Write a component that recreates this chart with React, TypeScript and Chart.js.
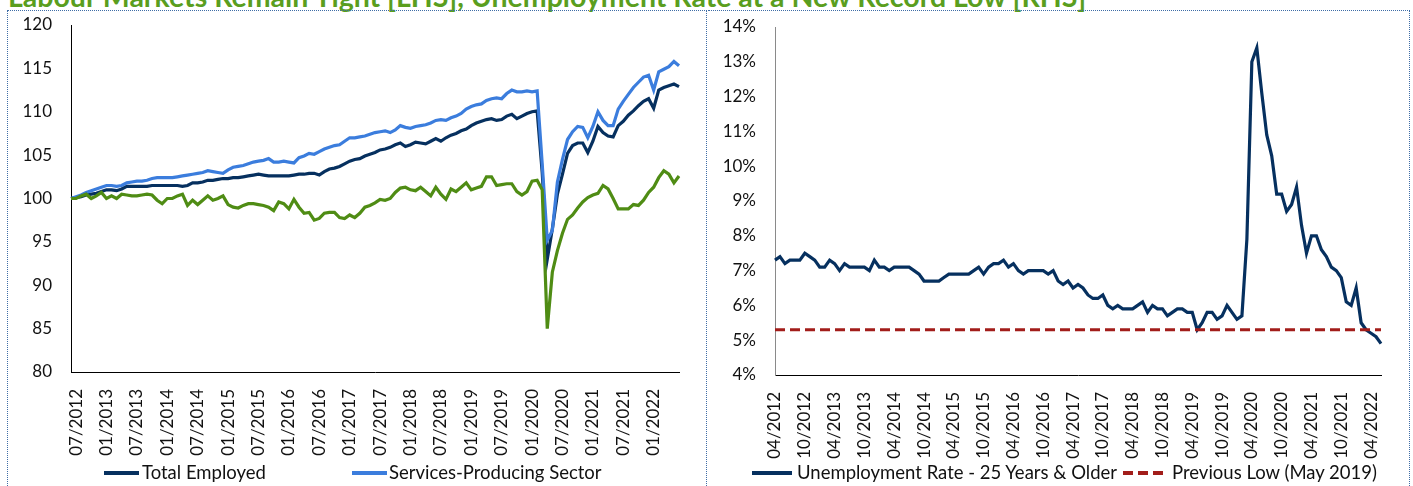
import React, { useEffect, useRef } from 'react';
import { Chart, registerables } from 'chart.js';

Chart.register(...registerables);

// ---------- categories ----------
function monthLabels(startYear: number, startMonth: number, count: number): string[] {
  const out: string[] = [];
  for (let k = 0; k < count; k++) {
    const m = ((startMonth - 1 + k) % 12) + 1;
    const y = startYear + Math.floor((startMonth - 1 + k) / 12);
    out.push(String(m).padStart(2, '0') + '/' + y);
  }
  return out;
}

const leftCategories = monthLabels(2012, 6, 121); // 06/2012 .. 06/2022
const rightCategories = monthLabels(2012, 4, 123); // 04/2012 .. 06/2022
const leftTickMonths = ['01', '07'];
const rightTickMonths = ['04', '10'];

const leftYMin = 80;
const leftYMax = 120;
const leftYStep = 5;
const rightYMin = 4;
const rightYMax = 14;
const rightYStep = 1;

// ---------- series (index, base = 100) ----------
const totalEmployed = [
  100.0, 100.1, 100.2, 100.4, 100.5, 100.6, 100.8, 101.0, 101.0, 100.9,
  101.1, 101.4, 101.4, 101.4, 101.4, 101.4, 101.5, 101.5, 101.5, 101.5,
  101.5, 101.5, 101.4, 101.5, 101.8, 101.8, 101.9, 102.1, 102.1, 102.2,
  102.3, 102.3, 102.4, 102.4, 102.5, 102.6, 102.7, 102.8, 102.7, 102.6,
  102.6, 102.6, 102.6, 102.6, 102.7, 102.8, 102.8, 102.9, 102.9, 102.7,
  103.1, 103.4, 103.5, 103.7, 104.0, 104.3, 104.5, 104.6, 104.9, 105.1,
  105.3, 105.6, 105.7, 105.9, 106.2, 106.4, 106.0, 106.2, 106.5, 106.4,
  106.3, 106.6, 106.9, 106.6, 107.0, 107.3, 107.5, 107.8, 108.0, 108.4,
  108.7, 108.9, 109.1, 109.2, 109.0, 109.1, 109.5, 109.7, 109.2, 109.5,
  109.8, 110.0, 110.1, 103.0, 93.0, 96.5, 100.5, 102.8, 105.2, 106.1,
  106.4, 106.4, 105.3, 106.6, 108.3, 107.6, 107.2, 107.1, 108.4, 108.9,
  109.6, 110.1, 110.7, 111.2, 111.5, 110.4, 112.5, 112.8, 113.0, 113.2,
  112.9,
];

const servicesSector = [
  100.0, 100.2, 100.4, 100.7, 100.9, 101.1, 101.3, 101.5, 101.5, 101.4,
  101.5, 101.8, 101.9, 102.0, 102.0, 102.1, 102.3, 102.4, 102.4, 102.4,
  102.4, 102.5, 102.6, 102.7, 102.8, 102.9, 103.0, 103.2, 103.1, 103.0,
  102.9, 103.3, 103.6, 103.7, 103.8, 104.0, 104.2, 104.3, 104.4, 104.6,
  104.2, 104.2, 104.3, 104.2, 104.1, 104.7, 104.9, 105.2, 105.1, 105.4,
  105.7, 105.9, 106.1, 106.2, 106.6, 107.0, 107.0, 107.1, 107.2, 107.4,
  107.6, 107.7, 107.8, 107.6, 107.9, 108.4, 108.2, 108.1, 108.3, 108.4,
  108.5, 108.7, 109.0, 109.1, 109.0, 109.3, 109.5, 109.8, 110.3, 110.6,
  110.8, 110.9, 111.3, 111.5, 111.6, 111.5, 112.1, 112.5, 112.3, 112.3,
  112.4, 112.3, 112.4, 104.0, 95.2, 96.3, 101.9, 104.5, 106.8, 107.7,
  108.3, 108.2, 107.0, 108.3, 110.0, 109.0, 108.4, 108.4, 110.3, 111.2,
  112.0, 112.8, 113.4, 114.0, 114.2, 112.5, 114.6, 114.9, 115.2, 115.8,
  115.3,
];

const goodsSector = [
  100.0, 100.0, 100.3, 100.5, 100.0, 100.3, 100.7, 100.0, 100.3, 100.0,
  100.5, 100.4, 100.3, 100.3, 100.4, 100.5, 100.4, 99.8, 99.4, 100.0,
  100.0, 100.3, 100.5, 99.2, 99.8, 99.3, 99.8, 100.3, 99.8, 100.0,
  100.3, 99.3, 99.0, 98.9, 99.2, 99.4, 99.4, 99.3, 99.2, 99.0,
  98.6, 99.6, 99.4, 98.8, 99.9, 99.0, 98.3, 98.4, 97.5, 97.7,
  98.3, 98.4, 98.4, 97.8, 97.7, 98.1, 97.8, 98.3, 99.0, 99.2,
  99.5, 99.9, 99.8, 100.0, 100.7, 101.2, 101.3, 101.0, 100.9, 101.3,
  100.8, 100.3, 101.3, 100.5, 99.9, 101.1, 100.8, 101.3, 101.8, 101.0,
  101.2, 101.4, 102.5, 102.5, 101.5, 101.6, 101.7, 101.7, 100.8, 100.4,
  100.8, 102.0, 102.1, 101.0, 85.0, 91.5, 94.0, 96.0, 97.6, 98.1,
  98.9, 99.6, 100.1, 100.4, 100.6, 101.5, 101.1, 100.0, 98.8, 98.8,
  98.8, 99.3, 99.2, 99.8, 100.7, 101.3, 102.4, 103.2, 102.8, 101.8,
  102.6,
];

// ---------- unemployment rate, 25 years & older (%) ----------
const unemploymentRate = [
  7.3, 7.4, 7.2, 7.3, 7.3, 7.3, 7.5, 7.4, 7.3, 7.1,
  7.1, 7.3, 7.2, 7.0, 7.2, 7.1, 7.1, 7.1, 7.1, 7.0,
  7.3, 7.1, 7.1, 7.0, 7.1, 7.1, 7.1, 7.1, 7.0, 6.9,
  6.7, 6.7, 6.7, 6.7, 6.8, 6.9, 6.9, 6.9, 6.9, 6.9,
  7.0, 7.1, 6.9, 7.1, 7.2, 7.2, 7.3, 7.1, 7.2, 7.0,
  6.9, 7.0, 7.0, 7.0, 7.0, 6.9, 7.0, 6.7, 6.6, 6.7,
  6.5, 6.6, 6.5, 6.3, 6.2, 6.2, 6.3, 6.0, 5.9, 6.0,
  5.9, 5.9, 5.9, 6.0, 6.1, 5.8, 6.0, 5.9, 5.9, 5.7,
  5.8, 5.9, 5.9, 5.8, 5.8, 5.3, 5.5, 5.8, 5.8, 5.6,
  5.7, 6.0, 5.8, 5.6, 5.7, 7.9, 13.0, 13.4, 12.1, 10.9,
  10.3, 9.2, 9.2, 8.7, 8.9, 9.4, 8.3, 7.5, 8.0, 8.0,
  7.6, 7.4, 7.1, 7.0, 6.8, 6.1, 6.0, 6.5, 5.5, 5.3,
  5.2, 5.1, 4.9,
];
const previousLowValue = 5.3;
const previousLow = rightCategories.map(() => previousLowValue);

// ---------- styles ----------
const NAVY = '#06305F';
const LIGHT_BLUE = '#3B7DDD';
const GREEN = '#4F8C14';
const DARK_RED = '#A21D1A';
const TITLE_GREEN = '#5A9E1E';
const FONT = 'Lato, "Open Sans", sans-serif';
const TEXT = '#111111';

function xAxis(categories: string[], tickMonths: string[], height: number) {
  return {
    type: 'category' as const,
    offset: false,
    grid: { display: false, drawTicks: false },
    border: { display: true, color: '#000000', width: 1 },
    ticks: {
      autoSkip: false,
      maxRotation: 90,
      minRotation: 90,
      padding: 17,
      color: TEXT,
      font: { family: FONT, size: 17 },
      callback: (_v: any, index: number) => {
        const l = categories[index];
        return tickMonths.includes(l.slice(0, 2)) ? l : '';
      },
    },
    afterFit: (scale: any) => {
      scale.height = height;
      scale.paddingLeft = 0;
      scale.paddingRight = 0;
    },
  };
}

function yAxis(min: number, max: number, step: number, width: number, borderColor: string, suffix: string) {
  return {
    min,
    max,
    grid: { display: false, drawTicks: false },
    border: { display: true, color: borderColor, width: 1 },
    ticks: {
      stepSize: step,
      padding: 19,
      color: TEXT,
      font: { family: FONT, size: 17 },
      callback: (v: any) => v + suffix,
    },
    afterFit: (scale: any) => {
      scale.width = width;
      scale.paddingTop = 0;
      scale.paddingBottom = 0;
    },
  };
}

function LineChart({ config, style }: { config: any; style: React.CSSProperties }) {
  const ref = useRef<HTMLCanvasElement | null>(null);
  useEffect(() => {
    if (!ref.current) return;
    const chart = new Chart(ref.current, config);
    return () => chart.destroy();
  }, []);
  return <canvas ref={ref} width={style.width as number} height={style.height as number} style={{ position: 'absolute', ...style }} />;
}

const leftConfig = {
  type: 'line',
  data: {
    labels: leftCategories,
    datasets: [
      { label: 'Total Employed', data: totalEmployed, borderColor: NAVY, backgroundColor: NAVY, borderWidth: 3.2, pointRadius: 0, tension: 0, order: 3 },
      { label: 'Services-Producing Sector', data: servicesSector, borderColor: LIGHT_BLUE, backgroundColor: LIGHT_BLUE, borderWidth: 3.2, pointRadius: 0, tension: 0, order: 2 },
      { label: 'Goods-Producing Sector', data: goodsSector, borderColor: GREEN, backgroundColor: GREEN, borderWidth: 3.2, pointRadius: 0, tension: 0, order: 1 },
    ],
  },
  options: {
    animation: false,
    responsive: false,
    layout: { padding: { top: 15, right: 29, bottom: 0, left: 0 } },
    plugins: { legend: { display: false }, tooltip: { enabled: false } },
    scales: {
      x: xAxis(leftCategories, leftTickMonths, 90),
      y: yAxis(leftYMin, leftYMax, leftYStep, 63, '#000000', ''),
    },
  },
};

const rightConfig = {
  type: 'line',
  data: {
    labels: rightCategories,
    datasets: [
      { label: 'Unemployment Rate - 25 Years & Older', data: unemploymentRate, borderColor: NAVY, backgroundColor: NAVY, borderWidth: 3.2, pointRadius: 0, tension: 0, order: 2 },
      { label: 'Previous Low (May 2019)', data: previousLow, borderColor: DARK_RED, backgroundColor: DARK_RED, borderWidth: 3.2, borderDash: [10, 5], pointRadius: 0, tension: 0, order: 1 },
    ],
  },
  options: {
    animation: false,
    responsive: false,
    layout: { padding: { top: 17, right: 27, bottom: 0, left: 0 } },
    plugins: { legend: { display: false }, tooltip: { enabled: false } },
    scales: {
      x: xAxis(rightCategories, rightTickMonths, 87),
      y: yAxis(rightYMin, rightYMax, rightYStep, 65, '#8A8A8A', '%'),
    },
  },
};

function LegendItem({ left, lineLeft, lineWidth, color, dashed, text }: any) {
  const line: React.CSSProperties = {
    position: 'absolute',
    left: lineLeft,
    top: 471,
    width: lineWidth,
    height: 4,
    background: dashed
      ? `repeating-linear-gradient(to right, ${color} 0px, ${color} 10px, transparent 10px, transparent 15px)`
      : color,
  };
  return (
    <>
      <div style={line} />
      <div style={{ position: 'absolute', left, top: 461, fontFamily: FONT, fontSize: 18.5, lineHeight: '22px', color: TEXT, whiteSpace: 'nowrap' }}>{text}</div>
    </>
  );
}

export default function App() {
  return (
    <div style={{ position: 'fixed', left: 0, top: 0, width: 1413, height: 486, overflow: 'hidden', background: '#ffffff' }}>
      <div
        style={{
          position: 'absolute',
          left: 8,
          top: -21,
          fontFamily: FONT,
          fontWeight: 700,
          fontSize: 28.5,
          lineHeight: '34px',
          color: TITLE_GREEN,
          whiteSpace: 'nowrap',
        }}
      >
        Labour Markets Remain Tight [LHS], Unemployment Rate at a New Record Low [RHS]
      </div>
      <div style={{ position: 'absolute', left: 7, top: 10, width: 700, height: 500, border: '1px dotted #3F6DA6', boxSizing: 'border-box' }} />
      <div style={{ position: 'absolute', left: 708, top: 10, width: 702, height: 500, border: '1px dotted #3F6DA6', borderLeft: 'none', boxSizing: 'border-box' }} />
      <LineChart config={leftConfig} style={{ left: 8, top: 10, width: 700, height: 452 }} />
      <LineChart config={rightConfig} style={{ left: 710, top: 10, width: 698, height: 452 }} />
      <LegendItem lineLeft={104} lineWidth={35} left={142} color={NAVY} text="Total Employed" />
      <LegendItem lineLeft={352} lineWidth={35} left={389} color={LIGHT_BLUE} text="Services-Producing Sector" />
      <LegendItem lineLeft={752} lineWidth={40} left={797} color={NAVY} text="Unemployment Rate - 25 Years & Older" />
      <LegendItem lineLeft={1123} lineWidth={43} left={1172} color={DARK_RED} dashed text="Previous Low (May 2019)" />
    </div>
  );
}
